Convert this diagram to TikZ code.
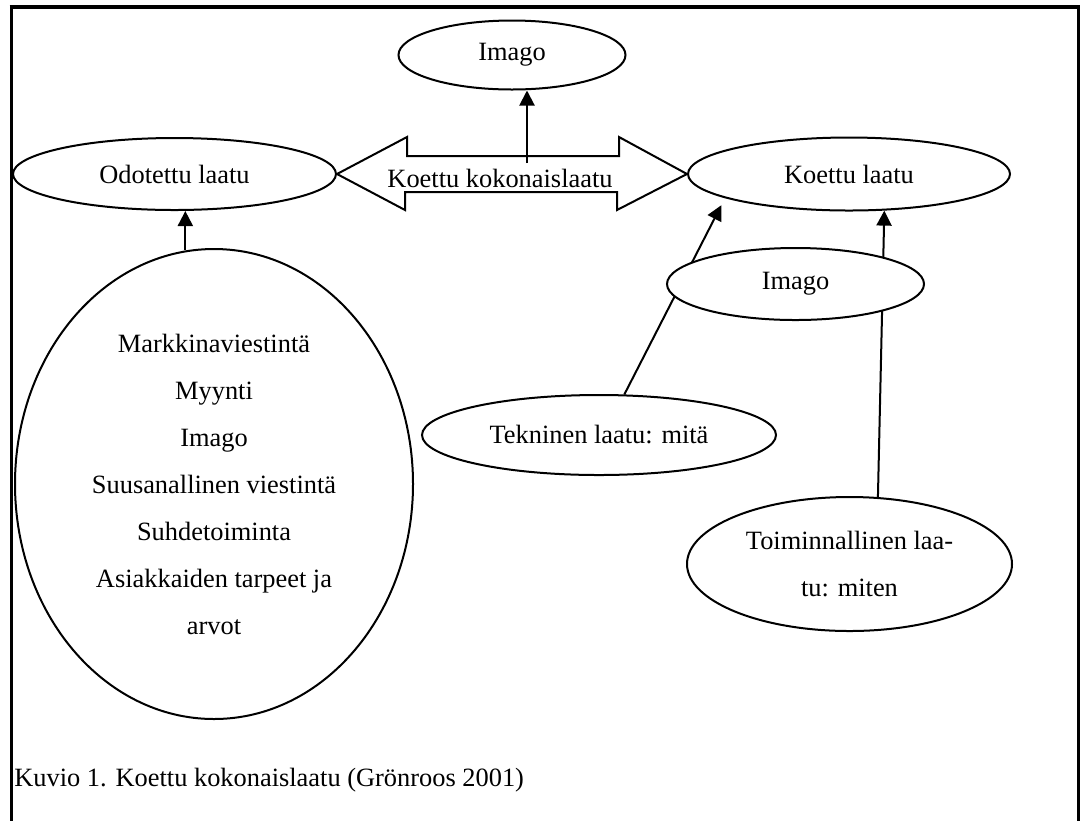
\documentclass[tikz,border=0pt]{standalone}
\usepackage{fontspec}
\setmainfont{Liberation Serif}
\usetikzlibrary{shapes.geometric,arrows.meta,backgrounds}
\newcommand\txtsize{\fontsize{13.2}{23.5}\selectfont}

\begin{document}
\begin{tikzpicture}[x=0.5pt,y=-0.5pt,
    oval/.style={ellipse,draw,line width=1pt,fill=white,inner sep=0pt,
      font=\txtsize,align=center},
    arr/.style={line width=1pt,-{Triangle[length=7.5pt,width=7.5pt]}}]
    \useasboundingbox (0,0) rectangle (1081,821);

    % frame
    \draw[line width=2pt] (9.5,7) -- (1079.5,7);
    \draw[line width=1.5pt] (11.5,7) -- (11.5,821);
    \draw[line width=1.5pt] (1078,7) -- (1078,821);

    % ellipses
    \node[oval,minimum width=113.5pt,minimum height=34.5pt] (imagotop) at (512,55) {Imago};
    \node[oval,minimum width=161.5pt,minimum height=36pt]   (odo)      at (174.5,174) {Odotettu laatu};
    \node[oval,minimum width=161pt,minimum height=36.5pt]   (koe)      at (849,174) {Koettu laatu};
    \node[oval,minimum width=128.5pt,minimum height=36pt]   (imagor)   at (795.5,284) {Imago};
    \node[oval,minimum width=177pt,minimum height=40pt]     (tek)      at (599,435) {Tekninen laatu: mitä};
    \node[oval,minimum width=199pt,minimum height=235pt]    (big)      at (214,484)
      {Markkinaviestintä\\Myynti\\Imago\\Suusanallinen viestintä\\Suhdetoiminta\\Asiakkaiden tarpeet ja\\arvot};
    \node[oval,minimum width=162.5pt,minimum height=67pt]   (toim)     at (849.5,564)
      {Toiminnallinen laa-\\tu: miten};

    % double arrow
    \draw[line width=1pt] (odo.east) -- ++(70,-37) -- ++(0,19) -- ++(212,0) -- ++(0,-19)
      -- (koe.west) -- ++(-70,36) -- ++(0,-18) -- ++(-212,0) -- ++(0,18) -- cycle;
    \node[font=\txtsize,inner sep=0pt] (kk) at (500,178) {Koettu kokonaislaatu};

    % arrows
    \coordinate (kkup) at (527,163);
    \draw[arr] (kkup) -- (kkup |- imagotop.south);
    \draw[arr] (big.97) -- (big.97 |- odo.south);
    \begin{scope}[on background layer]
      \draw[arr,shorten >=4pt] (tek.58) -- (koe.191);
      \draw[arr] (toim.67) -- (koe.314);
    \end{scope}

    % caption
    \node[font=\txtsize,inner sep=0pt,anchor=west] (caption) at (14,780)
      {Kuvio 1. Koettu kokonaislaatu (Grönroos 2001)};
\end{tikzpicture}
\end{document}
